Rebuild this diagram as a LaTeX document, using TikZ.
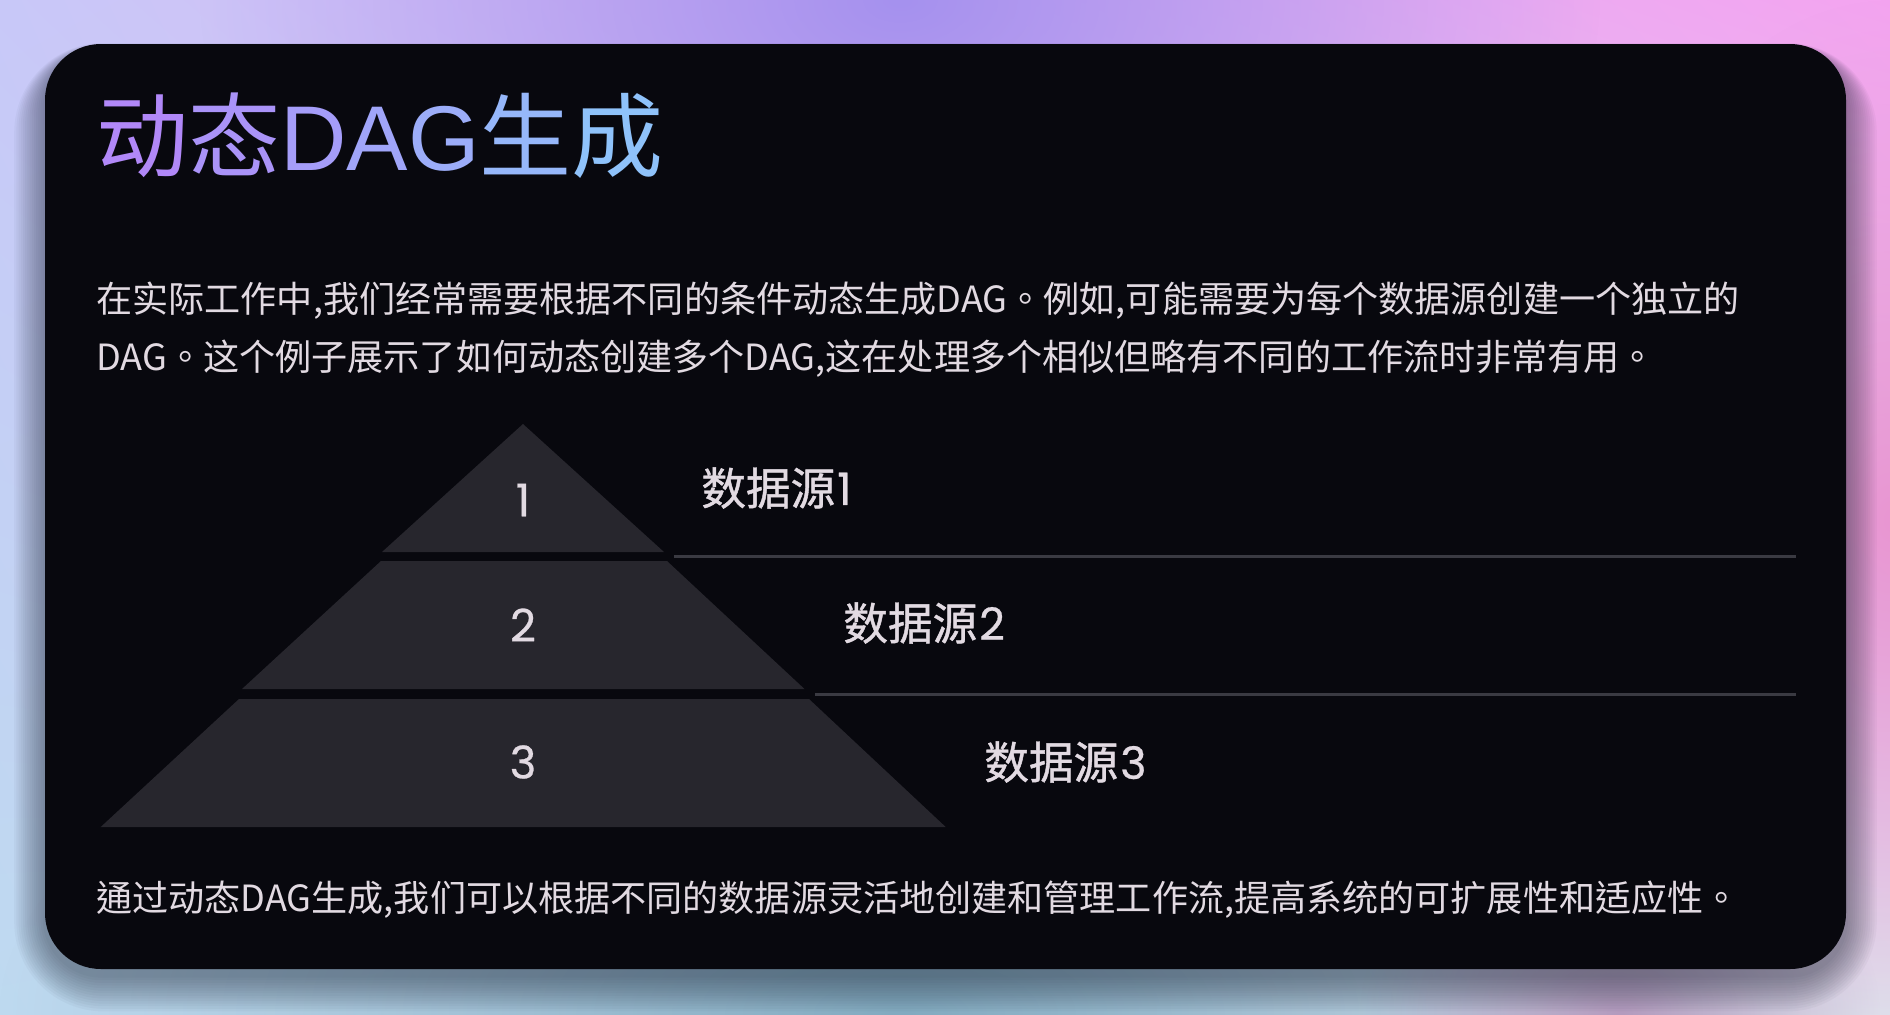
\documentclass[tikz,border=0pt]{standalone}
\usepackage{fontspec}
\setmainfont{Noto Sans CJK SC}
\newfontfamily\cjkf{Noto Sans CJK SC}
\newfontfamily\bodyf{Noto Sans CJK TC}
\newfontfamily\cjkmed{Noto Sans CJK SC}[FakeBold=1.0]
\newfontfamily\latf{Liberation Sans}
\newfontfamily\popf{Poppins}[FakeBold=0.6]
\usetikzlibrary{fadings,shadings}
\definecolor{cardbg}{HTML}{08080E}
\definecolor{pyrfill}{HTML}{27262D}
\definecolor{txtc}{HTML}{E2DAE2}
\definecolor{linec}{HTML}{3A3A42}
\definecolor{tstart}{HTML}{B482F8}
\definecolor{tend}{HTML}{8CC8FA}
\definecolor{shadowc}{HTML}{1A2232}
\definecolor{bgul}{RGB}{200,200,248}
\definecolor{bgur}{RGB}{244,164,240}
\definecolor{bgll}{RGB}{190,218,240}
\definecolor{bglr}{RGB}{222,226,236}
\definecolor{glowpurple}{RGB}{165,145,238}
\definecolor{glowblue}{RGB}{130,170,192}
\definecolor{glowpink}{RGB}{232,150,210}
\definecolor{glowmauve}{RGB}{180,155,190}
\tikzfading[name=glowfade, inner color=transparent!0, outer color=transparent!100]
\tikzset{
  bodytext/.style={inner sep=0pt, anchor=base west, text=txtc, font=\bodyf\fontsize{18.05pt}{22pt}\selectfont},
  numtext/.style={inner sep=0pt, anchor=center, text=txtc, font=\popf\fontsize{22.5pt}{26pt}\selectfont},
  srctext/.style={inner sep=0pt, anchor=west, text=txtc, font=\cjkmed\fontsize{22.3pt}{26pt}\selectfont},
  tier/.style={fill=pyrfill},
  sepline/.style={draw=linec, line width=1.5pt},
  glow/.style={path fading=glowfade}
}
\begin{document}
\begin{tikzpicture}[x=0.5pt,y=-0.5pt]
\useasboundingbox (0,0) rectangle (1890,1014);
% background
\shade[upper left=bgul, upper right=bgur, lower left=bgll, lower right=bglr] (0,0) rectangle (1890,1014);
\fill[glow, glowpurple] (900,0) ellipse [x radius=700, y radius=420];
\fill[glow, glowblue] (900,1014) ellipse [x radius=900, y radius=380];
\fill[glow, glowpink] (1890,520) ellipse [x radius=320, y radius=520];
\fill[glow, glowmauve] (1620,1014) ellipse [x radius=260, y radius=200];
% shadow
\foreach \i in {1,...,14}{
  \pgfmathsetmacro\rr{28+\i*1.2}
  \fill[shadowc, opacity=0.035, rounded corners=\rr pt] (45-2.2*\i,50-0.5*\i) rectangle (1846+2.2*\i,975+2.6*\i);
}
% card
\fill[cardbg, rounded corners=28pt] (45,44) rectangle (1846,969);
% title
\node[inner sep=0pt, anchor=base west, font=\fontsize{46pt}{50pt}\selectfont] (title) at (96,170)
  {{\cjkf\color{tstart!92!tend}动\color{tstart!76!tend}态}{\latf\color{tstart!62!tend}D\color{tstart!50!tend}A\color{tstart!39!tend}G}{\cjkf\color{tstart!24!tend}生\color{tstart!8!tend}成}};
% intro paragraph
\node[bodytext] (p1) at (96,312) {在实际工作中,我们经常需要根据不同的条件动态生成DAG。例如,可能需要为每个数据源创建一个独立的};
\node[bodytext] (p2) at (96,370) {DAG。这个例子展示了如何动态创建多个DAG,这在处理多个相似但略有不同的工作流时非常有用。};
% pyramid
\fill[tier] (523,424) -- (664,552) -- (382,552) -- cycle;
\fill[tier] (381,561) -- (667,561) -- (804.5,689) -- (242,689) -- cycle;
\fill[tier] (239,699) -- (809,699) -- (945.7,827) -- (100.7,827) -- cycle;
\node[numtext] (n1) at (523,500) {1};
\node[numtext] (n2) at (523,625) {2};
\node[numtext] (n3) at (523,762) {3};
\node[srctext] (s1) at (701,488) {数据源\hspace{1pt}{\popf 1}};
\node[srctext] (s2) at (843,623) {数据源\hspace{1pt}{\popf 2}};
\node[srctext] (s3) at (984,762) {数据源\hspace{1pt}{\popf 3}};
\coordinate (l1a) at (674,556);
\coordinate (l1b) at (1796,556);
\coordinate (l2a) at (815,694);
\coordinate (l2b) at (1796,694);
\draw[sepline] (l1a) -- (l1b);
\draw[sepline] (l2a) -- (l2b);
% closing paragraph
\node[bodytext] (p3) at (96,911) {通过动态DAG生成,我们可以根据不同的数据源灵活地创建和管理工作流,提高系统的可扩展性和适应性。};
\end{tikzpicture}
\end{document}
